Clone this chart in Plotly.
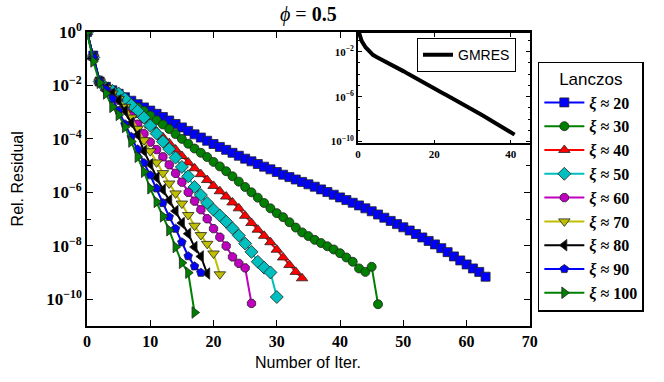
import plotly.graph_objects as go

# log10 of relative residual, one value per iteration (starting at 0)
log_xi20 = [0.0, -0.88, -1.85, -2.05, -2.18, -2.31, -2.44, -2.57, -2.70, -2.82,
            -2.94, -3.06, -3.18, -3.31, -3.44, -3.57, -3.70, -3.83, -3.95, -4.07,
            -4.19, -4.30, -4.41, -4.52, -4.63, -4.74, -4.84, -4.94, -5.04, -5.14,
            -5.24, -5.34, -5.43, -5.52, -5.61, -5.70, -5.79, -5.89, -5.99, -6.09,
            -6.19, -6.29, -6.39, -6.49, -6.60, -6.71, -6.83, -6.95, -7.07, -7.19,
            -7.31, -7.43, -7.56, -7.69, -7.82, -7.95, -8.09, -8.24, -8.40, -8.55,
            -8.70, -8.85, -8.98, -9.16]
log_xi30 = [0.0, -0.95, -1.85, -2.08, -2.25, -2.40, -2.55, -2.70, -2.82, -2.95,
            -3.12, -3.30, -3.46, -3.63, -3.82, -4.00, -4.18, -4.36, -4.52, -4.68,
            -4.86, -5.03, -5.21, -5.40, -5.60, -5.80, -6.00, -6.20, -6.40, -6.60,
            -6.78, -6.93, -7.12, -7.32, -7.50, -7.64, -7.78, -7.90, -8.02, -8.14,
            -8.28, -8.44, -8.60, -8.85, -8.98, -8.79, -10.19]
log_xi40 = [0.0, -0.95, -1.85, -2.10, -2.30, -2.50, -2.70, -2.90, -3.10, -3.30,
            -3.50, -3.72, -3.94, -4.16, -4.40, -4.64, -4.88, -5.10, -5.32, -5.54,
            -5.76, -5.96, -6.16, -6.38, -6.60, -6.88, -7.15, -7.40, -7.63, -7.87,
            -8.15, -8.44, -8.72, -8.98, -9.22]
log_xi50 = [0.0, -0.95, -1.85, -2.10, -2.20, -2.30, -2.50, -2.73, -2.95, -3.20,
            -3.50, -3.80, -4.10, -4.38, -4.70, -5.05, -5.40, -5.80, -6.10, -6.40,
            -6.65, -6.87, -7.10, -7.35, -7.62, -7.92, -8.23, -8.60, -8.82, -9.00,
            -9.92]
log_xi60 = [0.0, -0.95, -1.85, -2.10, -2.30, -2.55, -2.85, -3.15, -3.45, -3.80,
            -4.12, -4.40, -4.67, -4.97, -5.29, -5.62, -6.00, -6.33, -6.65, -6.99,
            -7.36, -7.68, -8.01, -8.42, -8.66, -8.83, -10.16]
log_xi70 = [0.0, -0.95, -1.85, -2.10, -2.30, -2.50, -2.80, -3.20, -3.62, -4.05,
            -4.46, -4.88, -5.28, -5.67, -6.04, -6.42, -6.85, -7.25, -7.60, -7.93,
            -8.29, -9.07]
log_xi80 = [0.0, -0.95, -1.85, -2.10, -2.30, -2.55, -2.95, -3.40, -3.85, -4.45,
            -4.95, -5.45, -5.90, -6.30, -6.70, -7.15, -7.55, -8.05, -8.40, -9.04]
log_xi90 = [0.0, -0.95, -1.85, -2.15, -2.50, -2.95, -3.45, -3.92, -4.39, -4.90,
            -5.36, -5.85, -6.40, -6.92, -7.36, -7.87, -8.39, -8.77, -9.01]
log_xi100 = [0.0, -1.10, -1.90, -2.30, -2.80, -3.10, -3.55, -4.10, -4.67, -5.23,
             -5.85, -6.36, -6.90, -7.42, -8.05, -8.64, -9.01, -10.50]

log_gmres = [0.0, -1.05, -1.60, -2.00, -2.30, -2.50, -2.67, -2.82, -2.97, -3.15,
             -3.35, -3.55, -3.75, -3.95, -4.15, -4.33, -4.52, -4.70, -4.90, -5.08,
             -5.27, -5.46, -5.65, -5.84, -6.02, -6.20, -6.39, -6.58, -6.77, -6.96,
             -7.15, -7.35, -7.55, -7.75, -7.95, -8.15, -8.35, -8.55, -8.75, -8.95,
             -9.15, -9.38]

series = [
    ('20', log_xi20, '#0000ff', 'square'),
    ('30', log_xi30, '#008000', 'circle'),
    ('40', log_xi40, '#ff0000', 'triangle-up'),
    ('50', log_xi50, '#00bfbf', 'diamond'),
    ('60', log_xi60, '#bf00bf', 'octagon'),
    ('70', log_xi70, '#bfbf00', 'triangle-down'),
    ('80', log_xi80, '#000000', 'triangle-left'),
    ('90', log_xi90, '#0000ff', 'pentagon'),
    ('100', log_xi100, '#008000', 'triangle-right'),
]

x_ticks = [0, 10, 20, 30, 40, 50, 60, 70]
y_exps = [0, -2, -4, -6, -8, -10]
inset_exps = [-2, -6, -10]

serif = 'Liberation Serif'
sans = 'Liberation Sans'

def sup(e):
    return '10<sup>' + str(e).replace('-', '\u2212') + '</sup>'

fig = go.Figure()

for name, vals, col, sym in series:
    size = 10 if sym in ('triangle-up', 'triangle-down', 'triangle-left', 'triangle-right', 'diamond') else 9
    fig.add_trace(go.Scatter(
        x=list(range(len(vals))),
        y=[10 ** v for v in vals],
        mode='lines+markers',
        name='<i>\u03be</i> \u2248 ' + name,
        line=dict(color=col, width=2),
        marker=dict(symbol=sym, size=size, color=col, line=dict(color='#222', width=0.8)),
        xaxis='x', yaxis='y',
    ))

fig.add_trace(go.Scatter(
    x=list(range(len(log_gmres))),
    y=[10 ** v for v in log_gmres],
    mode='lines', name='GMRES',
    line=dict(color='black', width=4),
    xaxis='x2', yaxis='y2', legend='legend2',
))

ax_common = dict(showline=True, linecolor='black', linewidth=1.5, mirror='ticks',
                 ticks='inside', tickcolor='black', showgrid=False, zeroline=False)

fig.update_layout(
    template=None,
    width=664, height=382,
    margin=dict(l=0, r=0, t=0, b=0),
    plot_bgcolor='white', paper_bgcolor='white',
    xaxis=dict(domain=[0.131, 0.798], anchor='y', range=[0, 70],
               tickvals=x_ticks, ticklen=6,
               tickfont=dict(family=serif, size=16, color='black', weight='bold'),
               **ax_common),
    yaxis=dict(domain=[0.147, 0.916], anchor='x', type='log', range=[-11, 0],
               tickvals=[10 ** e for e in y_exps], ticktext=[sup(e) for e in y_exps],
               ticklen=6,
               minor=dict(tickvals=[10 ** e for e in [-1, -3, -5, -7, -9]],
                          ticks='inside', ticklen=4, tickcolor='black'),
               tickfont=dict(family=serif, size=17, color='black', weight='bold'),
               **ax_common),
    xaxis2=dict(domain=[0.539, 0.798], anchor='y2', range=[0, 45],
                tickvals=[0, 20, 40], ticklen=4,
                tickfont=dict(family=serif, size=11, color='black', weight='bold'),
                **ax_common),
    yaxis2=dict(domain=[0.625, 0.914], anchor='x2', type='log', range=[-10.15, -0.32],
                tickvals=[10 ** e for e in inset_exps], ticktext=[sup(e) for e in inset_exps],
                ticklen=4,
                minor=dict(tickvals=[10 ** e for e in [-1, -3, -4, -5, -7, -8, -9]],
                           ticks='inside', ticklen=2, tickcolor='black'),
                tickfont=dict(family=serif, size=11, color='black', weight='bold'),
                **ax_common),
    legend=dict(x=0.81, y=0.838, xanchor='left', yanchor='top',
                bordercolor='black', borderwidth=1.5, bgcolor='white',
                font=dict(family=serif, size=16, color='black', weight='bold'),
                title=dict(text='Lanczos', side='top center',
                           font=dict(family=sans, size=17, color='black', weight='normal')),
                tracegroupgap=0, itemwidth=40),
    legend2=dict(x=0.628, y=0.90, xanchor='left', yanchor='top',
                 bordercolor='black', borderwidth=1, bgcolor='white',
                 font=dict(family=sans, size=14, color='black')),
    showlegend=True,
    annotations=[
        dict(text='<i>\u03d5</i> = <b>0.5</b>', x=0.464, y=0.961, xref='paper', yref='paper',
             xanchor='center', yanchor='middle',
             showarrow=False, font=dict(family=serif, size=20, color='black')),
        dict(text='Rel. Residual', x=0.026, y=0.531, xref='paper', yref='paper',
             xanchor='center', yanchor='middle',
             textangle=-90, showarrow=False, font=dict(family=sans, size=16, color='black')),
        dict(text='Number of Iter.', x=0.464, y=0.05, xref='paper', yref='paper',
             xanchor='center', yanchor='middle',
             showarrow=False, font=dict(family=sans, size=16, color='black')),
    ],
)

# the page body has a default 8px margin; drop it so the figure sits at the corner
fig.write_html('out.html', config={'displayModeBar': False},
               post_script="document.body.style.margin='0px';")
